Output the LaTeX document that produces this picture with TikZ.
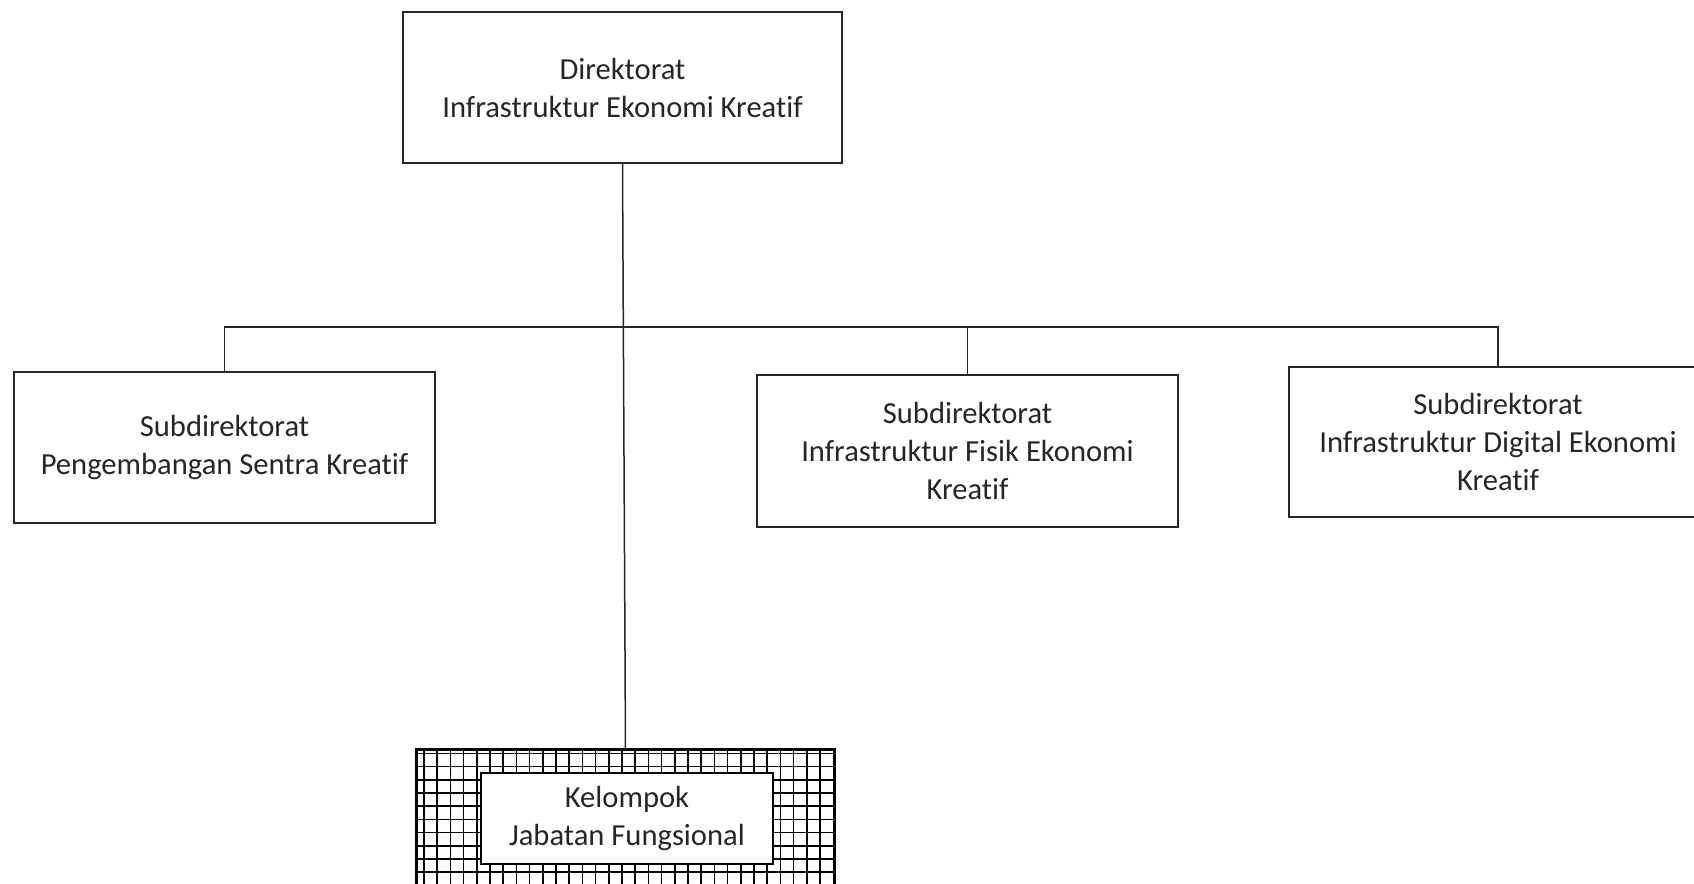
\documentclass[tikz,border=0pt]{standalone}
\usepackage{fontspec}
\setmainfont{Carlito}[Ligatures=NoCommon]
\begin{document}
\begin{tikzpicture}[x=0.5pt,y=-0.5pt,
  box/.style={draw=black!85, line width=0.75pt, fill=white, align=center, inner sep=0pt,
    font=\fontsize{15.3}{19}\selectfont, text=black!85},
  link/.style={draw=black!85, line width=0.75pt},
  gridline/.style={draw=black, line width=0.8pt}]
\clip (0,0) rectangle (1694,884);
\fill[white] (0,0) rectangle (1694,884);
% boxes
\node[box, minimum width=219.5pt, minimum height=75.5pt] (dir) at (622.5,87.5)
  {Direktorat\\Infrastruktur Ekonomi Kreatif};
\node[box, minimum width=210.5pt, minimum height=75.5pt] (left) at (224.5,447.5)
  {Subdirektorat\\Pengembangan Sentra Kreatif};
\node[box, minimum width=210.5pt, minimum height=76pt] (mid) at (967.5,451)
  {Subdirektorat\\Infrastruktur Fisik Ekonomi\\Kreatif};
\node[box, minimum width=209pt, minimum height=75pt] (right) at (1498,442)
  {Subdirektorat\\Infrastruktur Digital Ekonomi\\Kreatif};
% hatched group box
\node[draw=black, line width=0.75pt, fill=white, minimum width=208.5pt, minimum height=75pt, inner sep=0pt] (grp) at (625.5,825) {};
\begin{scope}
  \clip (417,750) rectangle (834,900);
  \foreach \i in {0,...,30} \draw[gridline] ({424+13.2*\i},750) -- ({424+13.2*\i},900);
  \foreach \j in {0,...,10} \draw[gridline] (417,{753.3+13.2*\j}) -- (834,{753.3+13.2*\j});
\end{scope}
\draw[black, line width=0.8pt] (grp.south west) rectangle (grp.north east);
\node[box, draw=black, line width=1.1pt, minimum width=146pt, minimum height=45.5pt] (kel) at (627,818.5)
  {Kelompok\\Jabatan Fungsional};
% connectors
\coordinate (busL) at (224.5,327);
\coordinate (busR) at (1498,327);
\draw[link] (dir.south) -- (grp.north);
\draw[link] (left.north) -- (left.north |- busL) -- (busR) -- (right.north);
\draw[link] (mid.north) -- (mid.north |- busL);
\end{tikzpicture}
\end{document}
